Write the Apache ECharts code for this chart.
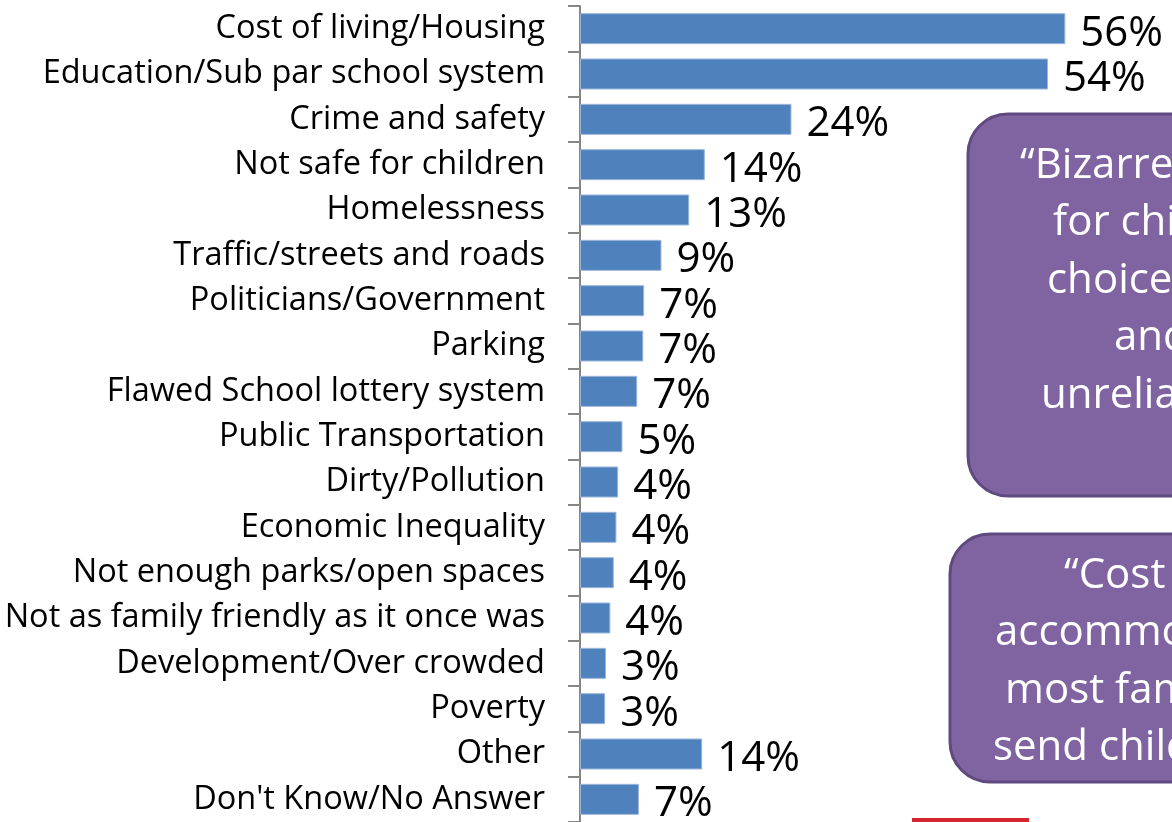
<!DOCTYPE html>
<html>
<head>
<meta charset="utf-8">
<script src="https://cdn.jsdelivr.net/npm/echarts@6/dist/echarts.min.js"></script>
<style>
  html, body { margin: 0; padding: 0; background: #fff; }
  #chart { width: 1172px; height: 822px; }
</style>
</head>
<body>
<div id="chart"></div>
<script>
// categories, top to bottom
const categories = [
  'Cost of living/Housing',
  'Education/Sub par school system',
  'Crime and safety',
  'Not safe for children',
  'Homelessness',
  'Traffic/streets and roads',
  'Politicians/Government',
  'Parking',
  'Flawed School lottery system',
  'Public Transportation',
  'Dirty/Pollution',
  'Economic Inequality',
  'Not enough parks/open spaces',
  'Not as family friendly as it once was',
  'Development/Over crowded',
  'Poverty',
  'Other',
  "Don't Know/No Answer"
]

// percent values
const values = [56.0, 54.0, 24.4, 14.4, 12.6, 9.4, 7.4, 7.3, 6.6, 4.9, 4.4, 4.2, 3.9, 3.5, 3.0, 2.9, 14.1, 6.8]

// shown labels
const labels = ['56%', '54%', '24%', '14%', '13%', '9%', '7%', '7%', '7%', '5%', '4%', '4%', '4%', '4%', '3%', '3%', '14%', '7%']

// quote boxes (text runs off the right edge like the original slide)
const quote1 = ['“Bizarre', 'for children', 'choice', 'and', 'unreliable']
const quote1X = [1020, 1053, 1047, 1114, 1041]
const quote2 = ['“Cost', 'accommodations', 'most families', 'send children']
const quote2X = [1064, 995, 1005, 993]

const chart = echarts.init(document.getElementById('chart'))

const boxText = (lines, xs, y0, step) => lines.map((t, i) => ({
  type: 'text',
  x: xs[i],
  y: y0 + i * step,
  z: 10,
  style: {
    text: t,
    fill: '#ffffff',
    font: '42px "Open Sans"',
    verticalAlign: 'middle',
    align: 'left'
  }
}))

const option = {
  animation: false,
  grid: { left: 580, right: 72, top: 6, bottom: 0, containLabel: false, outerBoundsMode: 'none' },
  xAxis: {
    type: 'value',
    min: 0,
    max: 60,
    show: false
  },
  yAxis: {
    type: 'category',
    inverse: true,
    data: categories,
    axisLine: { show: true, lineStyle: { color: '#868686', width: 2 } },
    axisTick: { show: true, length: 12, lineStyle: { color: '#868686', width: 2 } },
    axisLabel: {
      color: '#000',
      fontSize: 32.5,
      fontFamily: 'Open Sans',
      margin: 35
    }
  },
  series: [{
    type: 'bar',
    data: values,
    barWidth: 31,
    itemStyle: {
      color: '#4f81bd',
      borderColor: '#9ab6da',
      borderWidth: 1
    },
    label: {
      show: true,
      position: 'right',
      distance: 15,
      color: '#000',
      fontSize: 42,
      fontFamily: 'Open Sans',
      offset: [0, 5],
      formatter: (p) => labels[p.dataIndex]
    }
  }],
  graphic: [
    {
      type: 'rect',
      shape: { x: 968, y: 114, width: 320, height: 382, r: 40 },
      style: { fill: '#8064a2', stroke: '#5f4a80', lineWidth: 3 },
      z: 5
    },
    {
      type: 'rect',
      shape: { x: 950, y: 534, width: 320, height: 248, r: 40 },
      style: { fill: '#8064a2', stroke: '#5f4a80', lineWidth: 3 },
      z: 5
    },
    {
      type: 'rect',
      shape: { x: 912, y: 818, width: 117, height: 4 },
      style: { fill: '#d22630' },
      z: 5
    },
    ...boxText(quote1, quote1X, 166, 57.5),
    ...boxText(quote2, quote2X, 576, 57.5)
  ]
}

chart.setOption(option)
</script>
</body>
</html>
